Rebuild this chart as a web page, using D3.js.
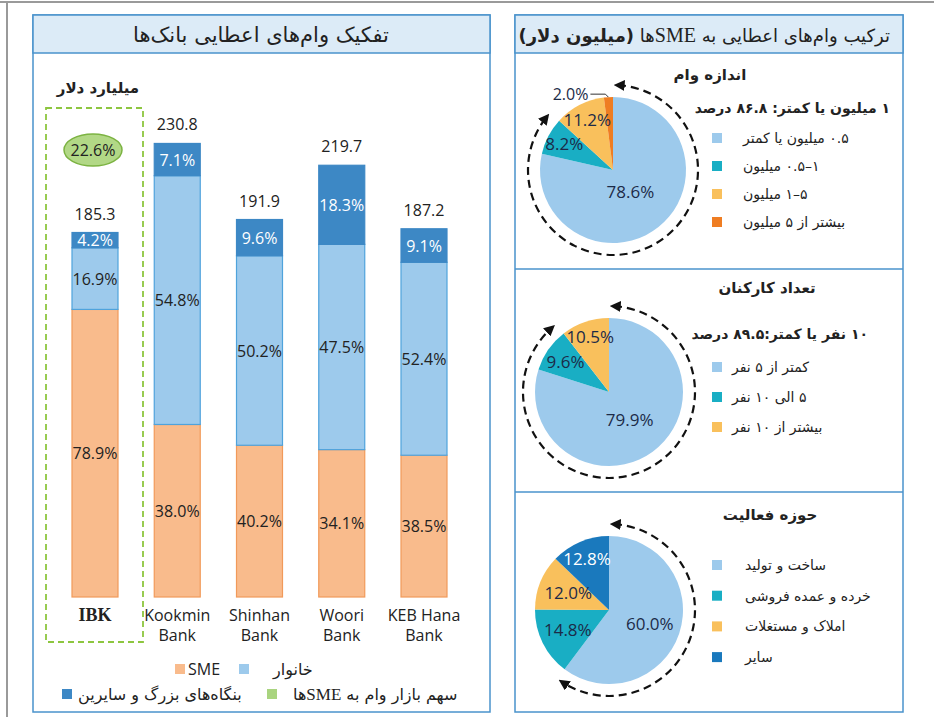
<!DOCTYPE html>
<html>
<head>
<meta charset="utf-8">
<script src="https://cdn.jsdelivr.net/npm/d3@7"></script>
<style>
  body { margin: 0; background: #fff; }
</style>
</head>
<body>
<div id="chart"></div>
<script>
// Bar chart data
const banks = ['IBK', 'Kookmin Bank', 'Shinhan Bank', 'Woori Bank', 'KEB Hana Bank'];
const bankLines = [['IBK'], ['Kookmin', 'Bank'], ['Shinhan', 'Bank'], ['Woori', 'Bank'], ['KEB Hana', 'Bank']];
const totals = [185.3, 230.8, 191.9, 219.7, 187.2];
const smeShare = [78.9, 38.0, 40.2, 34.1, 38.5];
const householdShare = [16.9, 54.8, 50.2, 47.5, 52.4];
const largeShare = [4.2, 7.1, 9.6, 18.3, 9.1];
const ibkMarketShare = 22.6;

// Pie data
const sizeLabels = ['۰.۵ میلیون یا کمتر', '۱–۰.۵ میلیون', '۵–۱ میلیون', 'بیشتر از ۵ میلیون'];
const sizeValues = [78.6, 8.2, 11.2, 2.0];
const staffLabels = ['کمتر از ۵ نفر', '۵ الی ۱۰ نفر', 'بیشتر از ۱۰ نفر'];
const staffValues = [79.9, 9.6, 10.5];
const sectorLabels = ['ساخت و تولید', 'خرده و عمده فروشی', 'املاک و مستغلات', 'سایر'];
const sectorValues = [60.0, 14.8, 12.0, 12.8];

const chartWidth = 934;
const chartHeight = 717;
const fa = '"DejaVu Sans", sans-serif';
const num = '"Open Sans", "Noto Sans", sans-serif';
const frameBlue = '#4a93cc';

const svg = d3.select('#chart')
  .append('svg')
  .attr('width', chartWidth)
  .attr('height', chartHeight);

//Outer frame
svg.append('line').attr('x1', 0).attr('x2', chartWidth).attr('y1', 2).attr('y2', 2)
  .attr('stroke', '#9a9a9a').attr('stroke-width', 2);
svg.append('line').attr('x1', 7).attr('x2', 7).attr('y1', 2).attr('y2', chartHeight)
  .attr('stroke', '#9a9a9a').attr('stroke-width', 2);

function panel(x, y, w, h) {
  svg.append('rect').attr('x', x).attr('y', y).attr('width', w).attr('height', h)
    .attr('fill', 'none').attr('stroke', frameBlue).attr('stroke-width', 1.5);
  svg.append('rect').attr('x', x).attr('y', y).attr('width', w).attr('height', 38)
    .attr('fill', '#dcebf7').attr('stroke', frameBlue).attr('stroke-width', 1.5);
}

panel(33, 15, 457, 697);
panel(515, 15, 388, 697);
svg.append('line').attr('x1', 515).attr('x2', 903).attr('y1', 269).attr('y2', 269)
  .attr('stroke', frameBlue).attr('stroke-width', 1.5);
svg.append('line').attr('x1', 515).attr('x2', 903).attr('y1', 492).attr('y2', 492)
  .attr('stroke', frameBlue).attr('stroke-width', 1.5);

svg.append('text').attr('x', 261).attr('y', 42).attr('text-anchor', 'middle')
  .attr('font-family', fa).attr('font-size', 21).attr('fill', '#222')
  .text('تفکیک وام‌های اعطایی بانک‌ها');

const rTitle = svg.append('text').attr('x', 890).attr('y', 42).attr('direction', 'rtl')
  .attr('text-anchor', 'start').attr('font-family', fa).attr('font-size', 18).attr('fill', '#222');
rTitle.append('tspan').text('ترکیب وام‌های اعطایی به ');
rTitle.append('tspan').attr('font-family', '"Liberation Serif", serif').attr('font-size', 20).text('SME');
rTitle.append('tspan').text('ها ');
rTitle.append('tspan').attr('font-weight', 'bold').text('(میلیون دلار)');

// ---- stacked bars ----
const y = d3.scaleLinear().domain([0, d3.max(totals)]).range([597, 143]);
const x = d3.scalePoint().domain(banks).range([95, 424]);
const barW = 46;

const rows = banks.map((b, i) => ({
  bank: b,
  sme: smeShare[i] * totals[i] / 100,
  household: householdShare[i] * totals[i] / 100,
  large: largeShare[i] * totals[i] / 100,
  shares: { sme: smeShare[i], household: householdShare[i], large: largeShare[i] }
}));
const keys = ['sme', 'household', 'large'];
const fills = { sme: '#f9bb8c', household: '#9dcaec', large: '#3d88c5' };
const strokes = { sme: '#f19a5a', household: '#4fa3dc', large: '#3d88c5' };
const labelColor = { sme: '#222', household: '#222', large: '#fff' };
const series = d3.stack().keys(keys)(rows);

//IBK highlight box
svg.append('rect').attr('x', 46).attr('y', 108).attr('width', 97).attr('height', 534)
  .attr('fill', 'none').attr('stroke', '#8dc63f').attr('stroke-width', 1.8)
  .attr('stroke-dasharray', '6,4');

series.forEach(s => {
  const g = svg.append('g');
  g.selectAll('rect')
    .data(s)
    .enter()
    .append('rect')
    .attr('x', d => x(d.data.bank) - barW / 2)
    .attr('y', d => y(d[1]))
    .attr('width', barW)
    .attr('height', d => y(d[0]) - y(d[1]))
    .attr('fill', fills[s.key])
    .attr('stroke', strokes[s.key])
    .attr('stroke-width', 1.2);
  g.selectAll('text')
    .data(s)
    .enter()
    .append('text')
    .attr('x', d => x(d.data.bank))
    .attr('y', d => (y(d[0]) + y(d[1])) / 2 + 6)
    .attr('text-anchor', 'middle')
    .attr('font-family', num)
    .attr('font-size', 16)
    .attr('fill', labelColor[s.key])
    .text(d => d.data.shares[s.key].toFixed(1) + '%');
});

svg.selectAll('.total')
  .data(rows)
  .enter()
  .append('text')
  .attr('x', d => x(d.bank))
  .attr('y', (d, i) => y(totals[i]) - 13)
  .attr('text-anchor', 'middle')
  .attr('font-family', num)
  .attr('font-size', 16)
  .attr('fill', '#222')
  .text((d, i) => totals[i].toFixed(1));

svg.append('ellipse').attr('cx', x('IBK') - 2).attr('cy', 150).attr('rx', 29).attr('ry', 16)
  .attr('fill', '#b2d886').attr('stroke', '#7cb342').attr('stroke-width', 1.5);
svg.append('text').attr('x', x('IBK') - 2).attr('y', 156).attr('text-anchor', 'middle')
  .attr('font-family', num).attr('font-size', 16).attr('fill', '#222')
  .text(ibkMarketShare.toFixed(1) + '%');

svg.append('text').attr('x', 98).attr('y', 93).attr('text-anchor', 'middle')
  .attr('font-family', fa).attr('font-size', 15).attr('font-weight', 'bold').attr('fill', '#222')
  .text('میلیارد دلار');

bankLines.forEach((lines, i) => {
  lines.forEach((ln, j) => {
    svg.append('text')
      .attr('x', x(banks[i]))
      .attr('y', 621 + j * 20)
      .attr('text-anchor', 'middle')
      .attr('font-family', i === 0 ? '"Liberation Serif", serif' : num)
      .attr('font-weight', i === 0 ? 'bold' : 'normal')
      .attr('font-size', i === 0 ? 18 : 16)
      .attr('fill', '#222')
      .text(ln);
  });
});

//Bar legend
function legendSquare(px, py, color) {
  svg.append('rect').attr('x', px).attr('y', py - 5).attr('width', 10).attr('height', 10)
    .attr('fill', color);
}
legendSquare(175, 669, fills.sme);
svg.append('text').attr('x', 188).attr('y', 675).attr('font-family', num).attr('font-size', 16)
  .attr('fill', '#222').text('SME');
legendSquare(239, 669, fills.household);
svg.append('text').attr('x', 273).attr('y', 675).attr('direction', 'rtl').attr('text-anchor', 'end')
  .attr('font-family', fa).attr('font-size', 16).attr('fill', '#222').text('خانوار');
legendSquare(62, 694, fills.large);
svg.append('text').attr('x', 78).attr('y', 700).attr('direction', 'rtl').attr('text-anchor', 'end')
  .attr('font-family', fa).attr('font-size', 16).attr('fill', '#222')
  .text('بنگاه‌های بزرگ و سایرین');
legendSquare(267, 694, '#a9d47f');
const lg = svg.append('text').attr('x', 293).attr('y', 700).attr('direction', 'rtl').attr('text-anchor', 'end')
  .attr('font-family', fa).attr('font-size', 16).attr('fill', '#222');
lg.append('tspan').text('سهم بازار وام به ');
lg.append('tspan').attr('font-family', '"Liberation Serif", serif').attr('font-size', 17).text('SME');
lg.append('tspan').text('ها');

// ---- pies ----
const defs = svg.append('defs');
defs.append('marker')
  .attr('id', 'arrow')
  .attr('viewBox', '0 -5 10 10')
  .attr('refX', 6)
  .attr('refY', 0)
  .attr('markerWidth', 5)
  .attr('markerHeight', 5)
  .attr('markerUnits', 'strokeWidth')
  .attr('orient', 'auto-start-reverse')
  .append('path')
  .attr('d', 'M0,-5L10,0L0,5Z')
  .attr('fill', '#111');

const pieColors = {
  size: ['#9dcaec', '#19aec4', '#f9c05c', '#ef7d22'],
  staff: ['#9dcaec', '#19aec4', '#f9c05c'],
  sector: ['#9dcaec', '#19aec4', '#f9c05c', '#1a79bd']
};

const pies = [
  { values: sizeValues, labels: sizeLabels, colors: pieColors.size, cx: 613, cy: 170, r: 73,
    title: 'اندازه وام', titleX: 710, titleY: 80,
    sub: '۱ میلیون یا کمتر: ۸۶.۸ درصد', subX: 890, subY: 113,
    legY: 138, legStep: 28, legTextX: 743, arcUpTo: 1, labelR: [28, 55, 56, 0], outside: 3,
    labelFill: ['#1c2b48', '#1c2b48', '#1c2b48', '#1c2b48'] },
  { values: staffValues, labels: staffLabels, colors: pieColors.staff, cx: 609, cy: 392, r: 74,
    title: 'تعداد کارکنان', titleX: 767, titleY: 293,
    sub: '۱۰ نفر یا کمتر:۸۹.۵ درصد', subX: 868, subY: 339,
    legY: 367, legStep: 30, legTextX: 732, arcUpTo: 1, labelR: [35, 53, 58],
    labelFill: ['#1c2b48', '#1c2b48', '#1c2b48'] },
  { values: sectorValues, labels: sectorLabels, colors: pieColors.sector, cx: 609, cy: 610, r: 74,
    title: 'حوزه فعالیت', titleX: 770, titleY: 520,
    legY: 565, legStep: 30.7, legTextX: 745, arcUpTo: 0, labelR: [43, 46, 44, 56],
    labelFill: ['#1c2b48', '#1c2b48', '#1c2b48', '#fff'] }
];

const pie = d3.pie().sort(null).value(d => d);

pies.forEach(cfg => {
  const arcs = pie(cfg.values);
  const arc = d3.arc().innerRadius(0).outerRadius(cfg.r);
  const g = svg.append('g').attr('transform', `translate(${cfg.cx},${cfg.cy})`);

  g.selectAll('path')
    .data(arcs)
    .enter()
    .append('path')
    .attr('d', arc)
    .attr('fill', (d, i) => cfg.colors[i]);

  g.selectAll('text')
    .data(arcs)
    .enter()
    .filter((d, i) => i !== cfg.outside)
    .append('text')
    .attr('x', d => Math.sin((d.startAngle + d.endAngle) / 2) * cfg.labelR[d.index])
    .attr('y', d => -Math.cos((d.startAngle + d.endAngle) / 2) * cfg.labelR[d.index] + 6)
    .attr('text-anchor', 'middle')
    .attr('font-family', num)
    .attr('font-size', 17)
    .attr('fill', d => cfg.labelFill[d.index])
    .text(d => d.data.toFixed(1) + '%');

  if (cfg.outside !== undefined) {
    const d = arcs[cfg.outside];
    const mid = (d.startAngle + d.endAngle) / 2;
    const ex = Math.sin(mid) * cfg.r, ey = -Math.cos(mid) * cfg.r;
    g.append('polyline')
      .attr('points', [[ex, ey], [ex - 3, ey - 3], [ex - 18, ey - 3]].join(' '))
      .attr('fill', 'none').attr('stroke', '#333').attr('stroke-width', 1);
    g.append('text')
      .attr('x', ex - 20).attr('y', ey + 3)
      .attr('text-anchor', 'end')
      .attr('font-family', num).attr('font-size', 16).attr('fill', '#1c2b48')
      .text(d.data.toFixed(1) + '%');
  }

  //Dashed arrow around the cumulative share
  const rd = cfg.r + 12;
  const a0 = 0.06 - Math.PI / 2;
  const a1 = arcs[cfg.arcUpTo].endAngle - 0.07 - Math.PI / 2;
  const p = d3.path();
  p.arc(0, 0, rd, a0, a1, false);
  g.append('path')
    .attr('d', p.toString())
    .attr('fill', 'none')
    .attr('stroke', '#111')
    .attr('stroke-width', 2.2)
    .attr('stroke-dasharray', '8,5')
    .attr('marker-start', 'url(#arrow)')
    .attr('marker-end', 'url(#arrow)');

  svg.append('text').attr('x', cfg.titleX).attr('y', cfg.titleY).attr('text-anchor', 'middle')
    .attr('font-family', fa).attr('font-size', 15).attr('font-weight', 'bold').attr('fill', '#222')
    .text(cfg.title);

  if (cfg.sub) {
    svg.append('text').attr('x', cfg.subX).attr('y', cfg.subY).attr('direction', 'rtl')
      .attr('text-anchor', 'start').attr('font-family', fa).attr('font-size', 14)
      .attr('font-weight', 'bold').attr('fill', '#222').text(cfg.sub);
  }

  cfg.labels.forEach((lab, i) => {
    const ly = cfg.legY + i * cfg.legStep;
    svg.append('rect').attr('x', 712).attr('y', ly - 5).attr('width', 10).attr('height', 10)
      .attr('fill', cfg.colors[i]);
    svg.append('text').attr('x', cfg.legTextX).attr('y', ly + 5).attr('direction', 'rtl')
      .attr('text-anchor', 'end').attr('font-family', fa).attr('font-size', 14).attr('fill', '#222')
      .text(lab);
  });
});
</script>
</body>
</html>
